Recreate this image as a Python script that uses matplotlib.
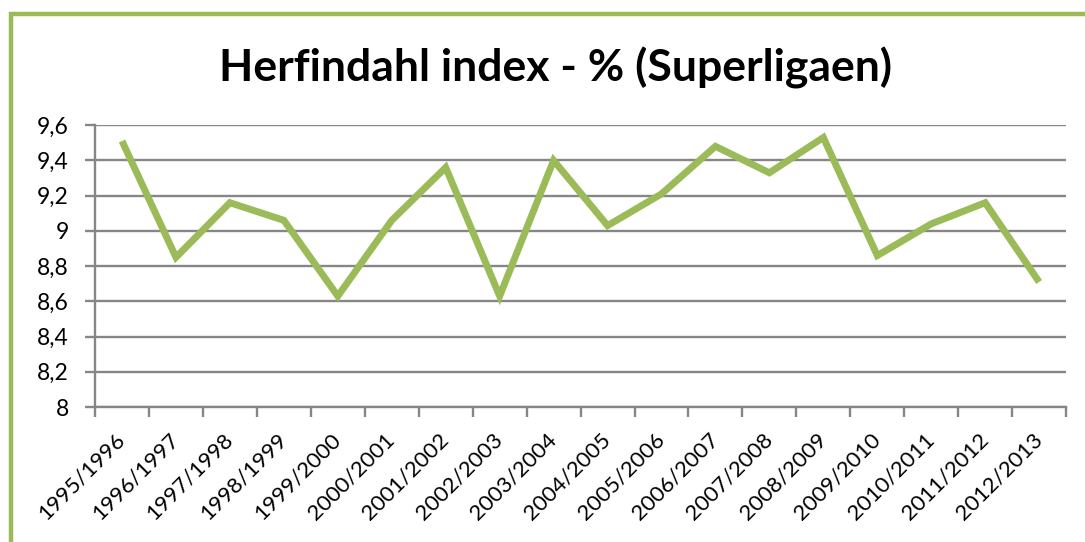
import matplotlib
matplotlib.use("Agg")
import matplotlib.pyplot as plt
from matplotlib.patches import Rectangle
from matplotlib.ticker import FixedLocator, FuncFormatter

seasons = ["1995/1996", "1996/1997", "1997/1998", "1998/1999", "1999/2000",
           "2000/2001", "2001/2002", "2002/2003", "2003/2004", "2004/2005",
           "2005/2006", "2006/2007", "2007/2008", "2008/2009", "2009/2010",
           "2010/2011", "2011/2012", "2012/2013"]
herfindahl = [9.51, 8.85, 9.16, 9.06, 8.63, 9.06, 9.36, 8.63, 9.40, 9.03,
              9.21, 9.48, 9.33, 9.53, 8.86, 9.04, 9.16, 8.71]
y_ticks = [8, 8.2, 8.4, 8.6, 8.8, 9, 9.2, 9.4, 9.6]

GREEN = "#9BBB59"
GRID = "#868686"

plt.rcParams["font.family"] = ["Lato", "DejaVu Sans"]

fig = plt.figure(figsize=(10.85, 5.42), dpi=100)
ax = fig.add_axes([0.0876, 0.249, 0.895, 0.520])

# chart frame (green border, cut at right/bottom like the source)
fig.patches.append(Rectangle((0.0101, -0.05), 1.1, 1.024, transform=fig.transFigure,
                             fill=False, edgecolor=GREEN, linewidth=3.2))

x = list(range(len(seasons)))
ax.plot(x, herfindahl, color=GREEN, linewidth=5, solid_joinstyle="miter",
        solid_capstyle="butt", zorder=3)

ax.set_xlim(-0.5, len(seasons) - 0.5)
ax.set_ylim(8, 9.6)
ax.set_yticks(y_ticks)
ax.yaxis.set_major_formatter(FuncFormatter(
    lambda v, p: f"{v:g}".replace(".", ",")))
ax.grid(axis="y", color=GRID, linewidth=1.7, zorder=1)

ax.set_xticks(x)
ax.set_xticklabels(seasons, rotation=45, ha="right", va="center",
                   rotation_mode="anchor", fontsize=16)
ax.tick_params(axis="x", which="major", length=0, pad=21)
ax.xaxis.set_minor_locator(FixedLocator([i - 0.5 for i in range(len(seasons) + 1)]))
ax.tick_params(axis="x", which="minor", length=7, width=1.7, color=GRID)
ax.tick_params(axis="y", length=7, width=1.7, color=GRID, labelsize=16.5, pad=12)

for s in ["top", "right"]:
    ax.spines[s].set_visible(False)
for s in ["left", "bottom"]:
    ax.spines[s].set_color(GRID)
    ax.spines[s].set_linewidth(1.7)

fig.text(0.512, 0.875, "Herfindahl index - % (Superligaen)", ha="center",
         va="center", fontsize=32, fontweight="bold")

fig.savefig("out.png", dpi=100)
